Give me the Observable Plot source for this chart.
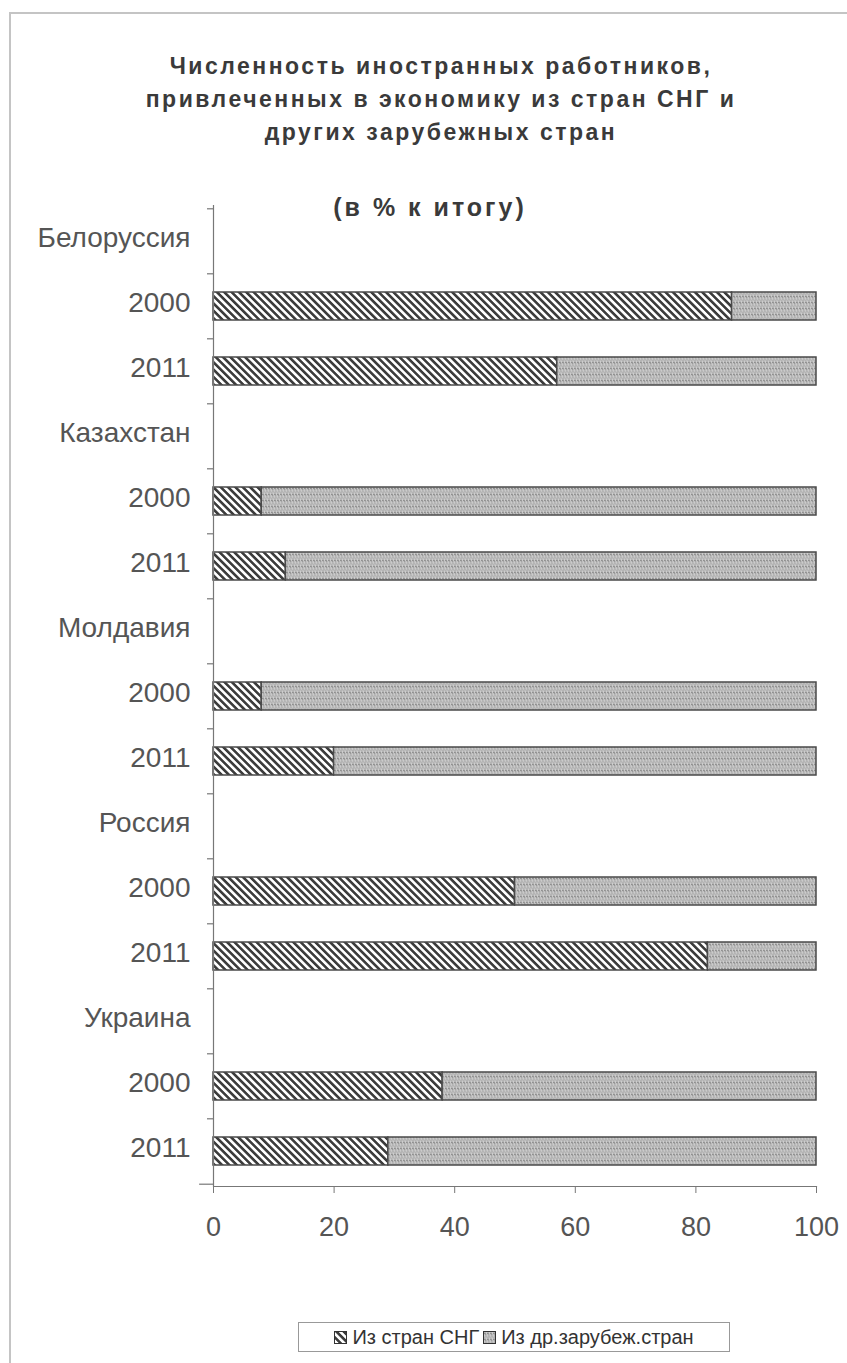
<!DOCTYPE html>
<html>
<head>
<meta charset="utf-8">
<script src="https://cdn.jsdelivr.net/npm/d3@7"></script>
<script src="https://cdn.jsdelivr.net/npm/@observablehq/plot@0.6"></script>
<style>
  html, body { margin: 0; padding: 0; background: #fff; }
  #page { position: relative; width: 847px; height: 1363px; overflow: hidden; font-family: "Liberation Sans", Arial, sans-serif; }
  #borderTop { position: absolute; left: 9px; top: 12px; width: 838px; height: 0; border-top: 2px solid #c4c4c4; }
  #borderLeft { position: absolute; left: 9px; top: 12px; width: 0; height: 1351px; border-left: 2px solid #c4c4c4; }
  #title { position: absolute; left: 35px; width: 812px; top: 50px; text-align: center; font-weight: bold; font-size: 23px; line-height: 33px; letter-spacing: 2.5px; color: #3a3a3a; }
  #subtitle { position: absolute; left: 24px; width: 812px; top: 193px; text-align: center; font-weight: bold; font-size: 25px; letter-spacing: 3px; color: #3a3a3a; }
  #chart { position: absolute; left: 0; top: 180px; }
  #legend { position: absolute; left: 298px; top: 1322px; width: 432px; height: 30px; border: 1px solid #999; box-sizing: border-box; display: flex; align-items: center; justify-content: center; gap: 4px; font-size: 20px; color: #333; white-space: nowrap; }
  #legend svg { vertical-align: middle; }
  .item { display: flex; align-items: center; gap: 5px; }
</style>
</head>
<body>
<svg width="0" height="0" style="position:absolute">
  <defs>
    <pattern id="pCis" patternUnits="userSpaceOnUse" width="5.2" height="5.2" patternTransform="rotate(-45)">
      <rect x="0" y="0" width="5.2" height="5.2" fill="#ffffff"></rect>
      <rect x="0" y="0" width="2.6" height="5.2" fill="#3c3c3c"></rect>
    </pattern>
    <pattern id="pOther" patternUnits="userSpaceOnUse" width="6" height="6">
      <rect x="0" y="0" width="6" height="6" fill="#b4b4b4"></rect>
      <path d="M0 3.5 L1.5 2 L3 3.5 L4.5 2 L6 3.5" fill="none" stroke="#7a7a7a" stroke-width="1"></path>
      <path d="M0 0.5 L1.5 5.5 M3 0.5 L4.5 5.5" fill="none" stroke="#dcdcdc" stroke-width="0.8"></path>
    </pattern>
  </defs>
</svg>
<div id="page">
  <div id="borderTop"></div>
  <div id="borderLeft"></div>
  <div id="title">Численность иностранных работников,<br>привлеченных в экономику из стран СНГ и<br>других зарубежных стран</div>
  <div id="subtitle">(в % к итогу)</div>
  <div id="chart"></div>
  <div id="legend">
    <span class="item"><svg width="13" height="13"><rect x="0.5" y="0.5" width="12" height="12" fill="url(#pCis)" stroke="#333"></rect></svg>Из стран СНГ</span>
    <span class="item"><svg width="13" height="13"><rect x="0.5" y="0.5" width="12" height="12" fill="url(#pOther)" stroke="#333"></rect></svg>Из др.зарубеж.стран</span>
  </div>
</div>
<script>
const countries = ["Белоруссия", "Казахстан", "Молдавия", "Россия", "Украина"];
const years = ["2000", "2011"];
const seriesNames = ["Из стран СНГ", "Из др.зарубеж.стран"];
// per country: [2000, 2011]
const cisShare = [86, 57, 8, 12, 8, 20, 50, 82, 38, 29];
const otherShare = [14, 43, 92, 88, 92, 80, 50, 18, 62, 71];
const xTicks = [0, 20, 40, 60, 80, 100];

// category order: country header row, then its years
const rows = [];
countries.forEach(c => { rows.push(c); years.forEach(y => rows.push(c + "|" + y)); });

const data = [];
countries.forEach((c, i) => {
  years.forEach((y, j) => {
    const k = i * years.length + j;
    data.push({row: c + "|" + y, series: seriesNames[0], value: cisShare[k]});
    data.push({row: c + "|" + y, series: seriesNames[1], value: otherShare[k]});
  });
});

const width = 847, height = 1066;
const marginTop = 25, marginBottom = 60, marginLeft = 213, marginRight = 31;
const step = (height - marginTop - marginBottom) / rows.length;

const chart = Plot.plot({
  width, height, marginTop, marginBottom, marginLeft, marginRight,
  style: {fontFamily: "'Liberation Sans', Arial, sans-serif", color: "#555", background: "transparent", overflow: "visible"},
  x: {domain: [0, 100], ticks: xTicks},
  y: {domain: rows, paddingInner: 0.57, paddingOuter: 0.285},
  color: {domain: seriesNames, range: ["url(#pCis)", "url(#pOther)"]},
  marks: [
    Plot.barX(data, Plot.stackX({y: "row", x: "value", fill: "series", order: seriesNames, stroke: "#4a4a4a", strokeWidth: 1.5})),
    Plot.ruleX([0], {stroke: "#777", strokeWidth: 1.2}),
    Plot.frame({anchor: "bottom", stroke: "#777", strokeWidth: 1.2}),
    Plot.ruleY(rows, {y: d => d, x1: -1, x2: 0, dy: -step / 2, stroke: "#777", strokeWidth: 1.2}),
    Plot.ruleY([rows[rows.length - 1]], {y: d => d, x1: -2.3, x2: 0, dy: step / 2, stroke: "#777", strokeWidth: 1.2}),
    Plot.axisY({tickSize: 0, tickPadding: 23, fontSize: 28, fill: "#555", letterSpacing: 2.8, dy: -3,
      tickFormat: d => d.includes("|") ? d.split("|")[1] : d, label: null}),
    Plot.axisX({ticks: xTicks, tickSize: 7, tickPadding: 23, fontSize: 27, fill: "#555", stroke: "#777", label: null, letterSpacing: 2})
  ]
});
document.getElementById("chart").appendChild(chart);
</script>
</body>
</html>
